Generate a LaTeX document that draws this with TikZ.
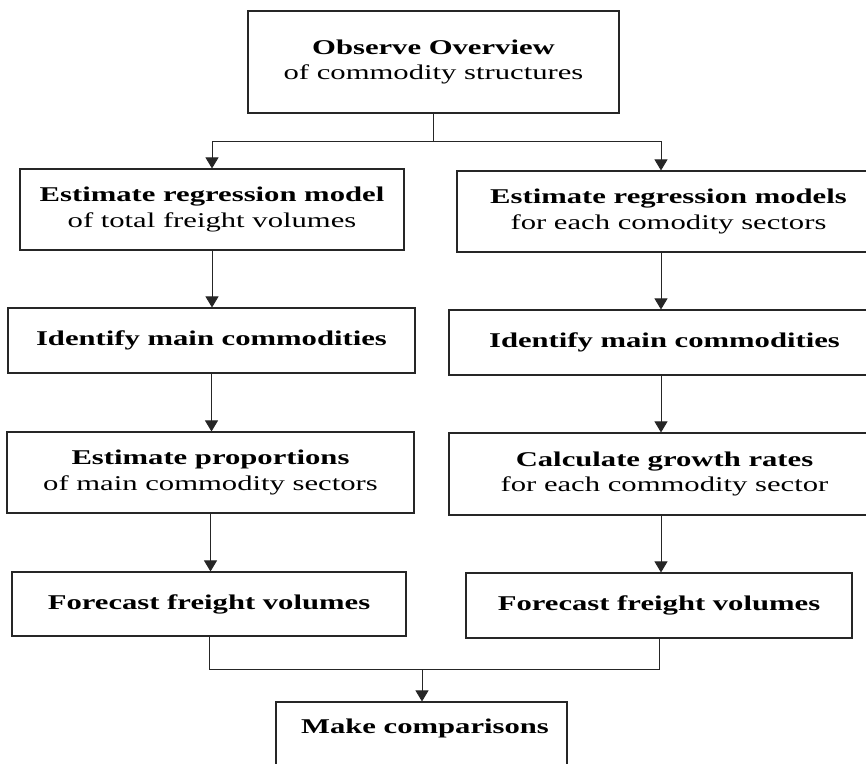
\documentclass[tikz,border=0pt]{standalone}
\usepackage{fontspec}
\setmainfont{Liberation Serif}[FakeStretch=1.46]
\usetikzlibrary{arrows.meta}
\begin{document}
\begin{tikzpicture}[x=1pt,y=-1pt,
  box/.style={draw=black!85, line width=1.1pt, inner sep=0pt, align=center,
    font=\fontsize{21}{25.5}\selectfont},
  txt/.style={inner sep=0pt, font=\fontsize{21}{25.5}\selectfont},
  conn/.style={draw=black!85, line width=0.9pt},
  arr/.style={conn, -{Triangle[width=13pt,length=11pt]}}]
\useasboundingbox (0,0) rectangle (866,763);
\clip (0,0) rectangle (866,763);
% boxes
\node[box, minimum width=371pt, minimum height=102pt] (top) at (433.5,62)
  {\textbf{Observe Overview}\\of commodity structures};
\node[box, minimum width=384pt, minimum height=81pt] (L1) at (212,209.5)
  {\textbf{Estimate regression model}\\of total freight volumes};
\node[box, minimum width=407pt, minimum height=65pt] (L2) at (211.5,340.5)
  {\textbf{Identify main commodities}};
\node[box, minimum width=407pt, minimum height=81pt] (L3) at (210.5,472.5)
  {\textbf{Estimate proportions}\\of main commodity sectors};
\node[box, minimum width=394pt, minimum height=64pt] (L4) at (209,604)
  {\textbf{Forecast freight volumes}};
\node[box, minimum width=423pt, minimum height=81pt] (R1) at (668.5,211.5)
  {\textbf{Estimate regression models}\\for each comodity sectors};
\node[box, minimum width=431pt, minimum height=65pt] (R2) at (664.5,342.5)
  {\textbf{Identify main commodities}};
\node[box, minimum width=431pt, minimum height=82pt] (R3) at (664.5,474)
  {\textbf{Calculate growth rates}\\for each commodity sector};
\node[box, minimum width=386pt, minimum height=65pt] (R4) at (659,605.5)
  {\textbf{Forecast freight volumes}};
\node[box, minimum width=291pt, minimum height=88pt] (cmp) at (421.5,746) {};
\node[txt, anchor=base] (cmptxt) at (425,733) {\textbf{Make comparisons}};
% connectors
\coordinate (rx) at (661,0);
\coordinate (fork) at (433.5,141);
\coordinate (mrg) at (422,669);
\draw[conn] (top.south) -- (fork);
\draw[arr] (fork) -| (L1.north);
\draw[arr] (fork) -| (R1.north -| rx);
\draw[arr] (L1.south) -- (L1.south |- L2.north);
\draw[arr] (L2.south) -- (L2.south |- L3.north);
\draw[arr] (L3.south) -- (L3.south |- L4.north);
\draw[arr] (R1.south -| rx) -- (R2.north -| rx);
\draw[arr] (R2.south -| rx) -- (R3.north -| rx);
\draw[arr] (R3.south -| rx) -- (R4.north -| rx);
\draw[conn] (L4.south) |- (mrg) -| (R4.south);
\draw[arr] (mrg) -- (cmp.north -| mrg);
\end{tikzpicture}
\end{document}
